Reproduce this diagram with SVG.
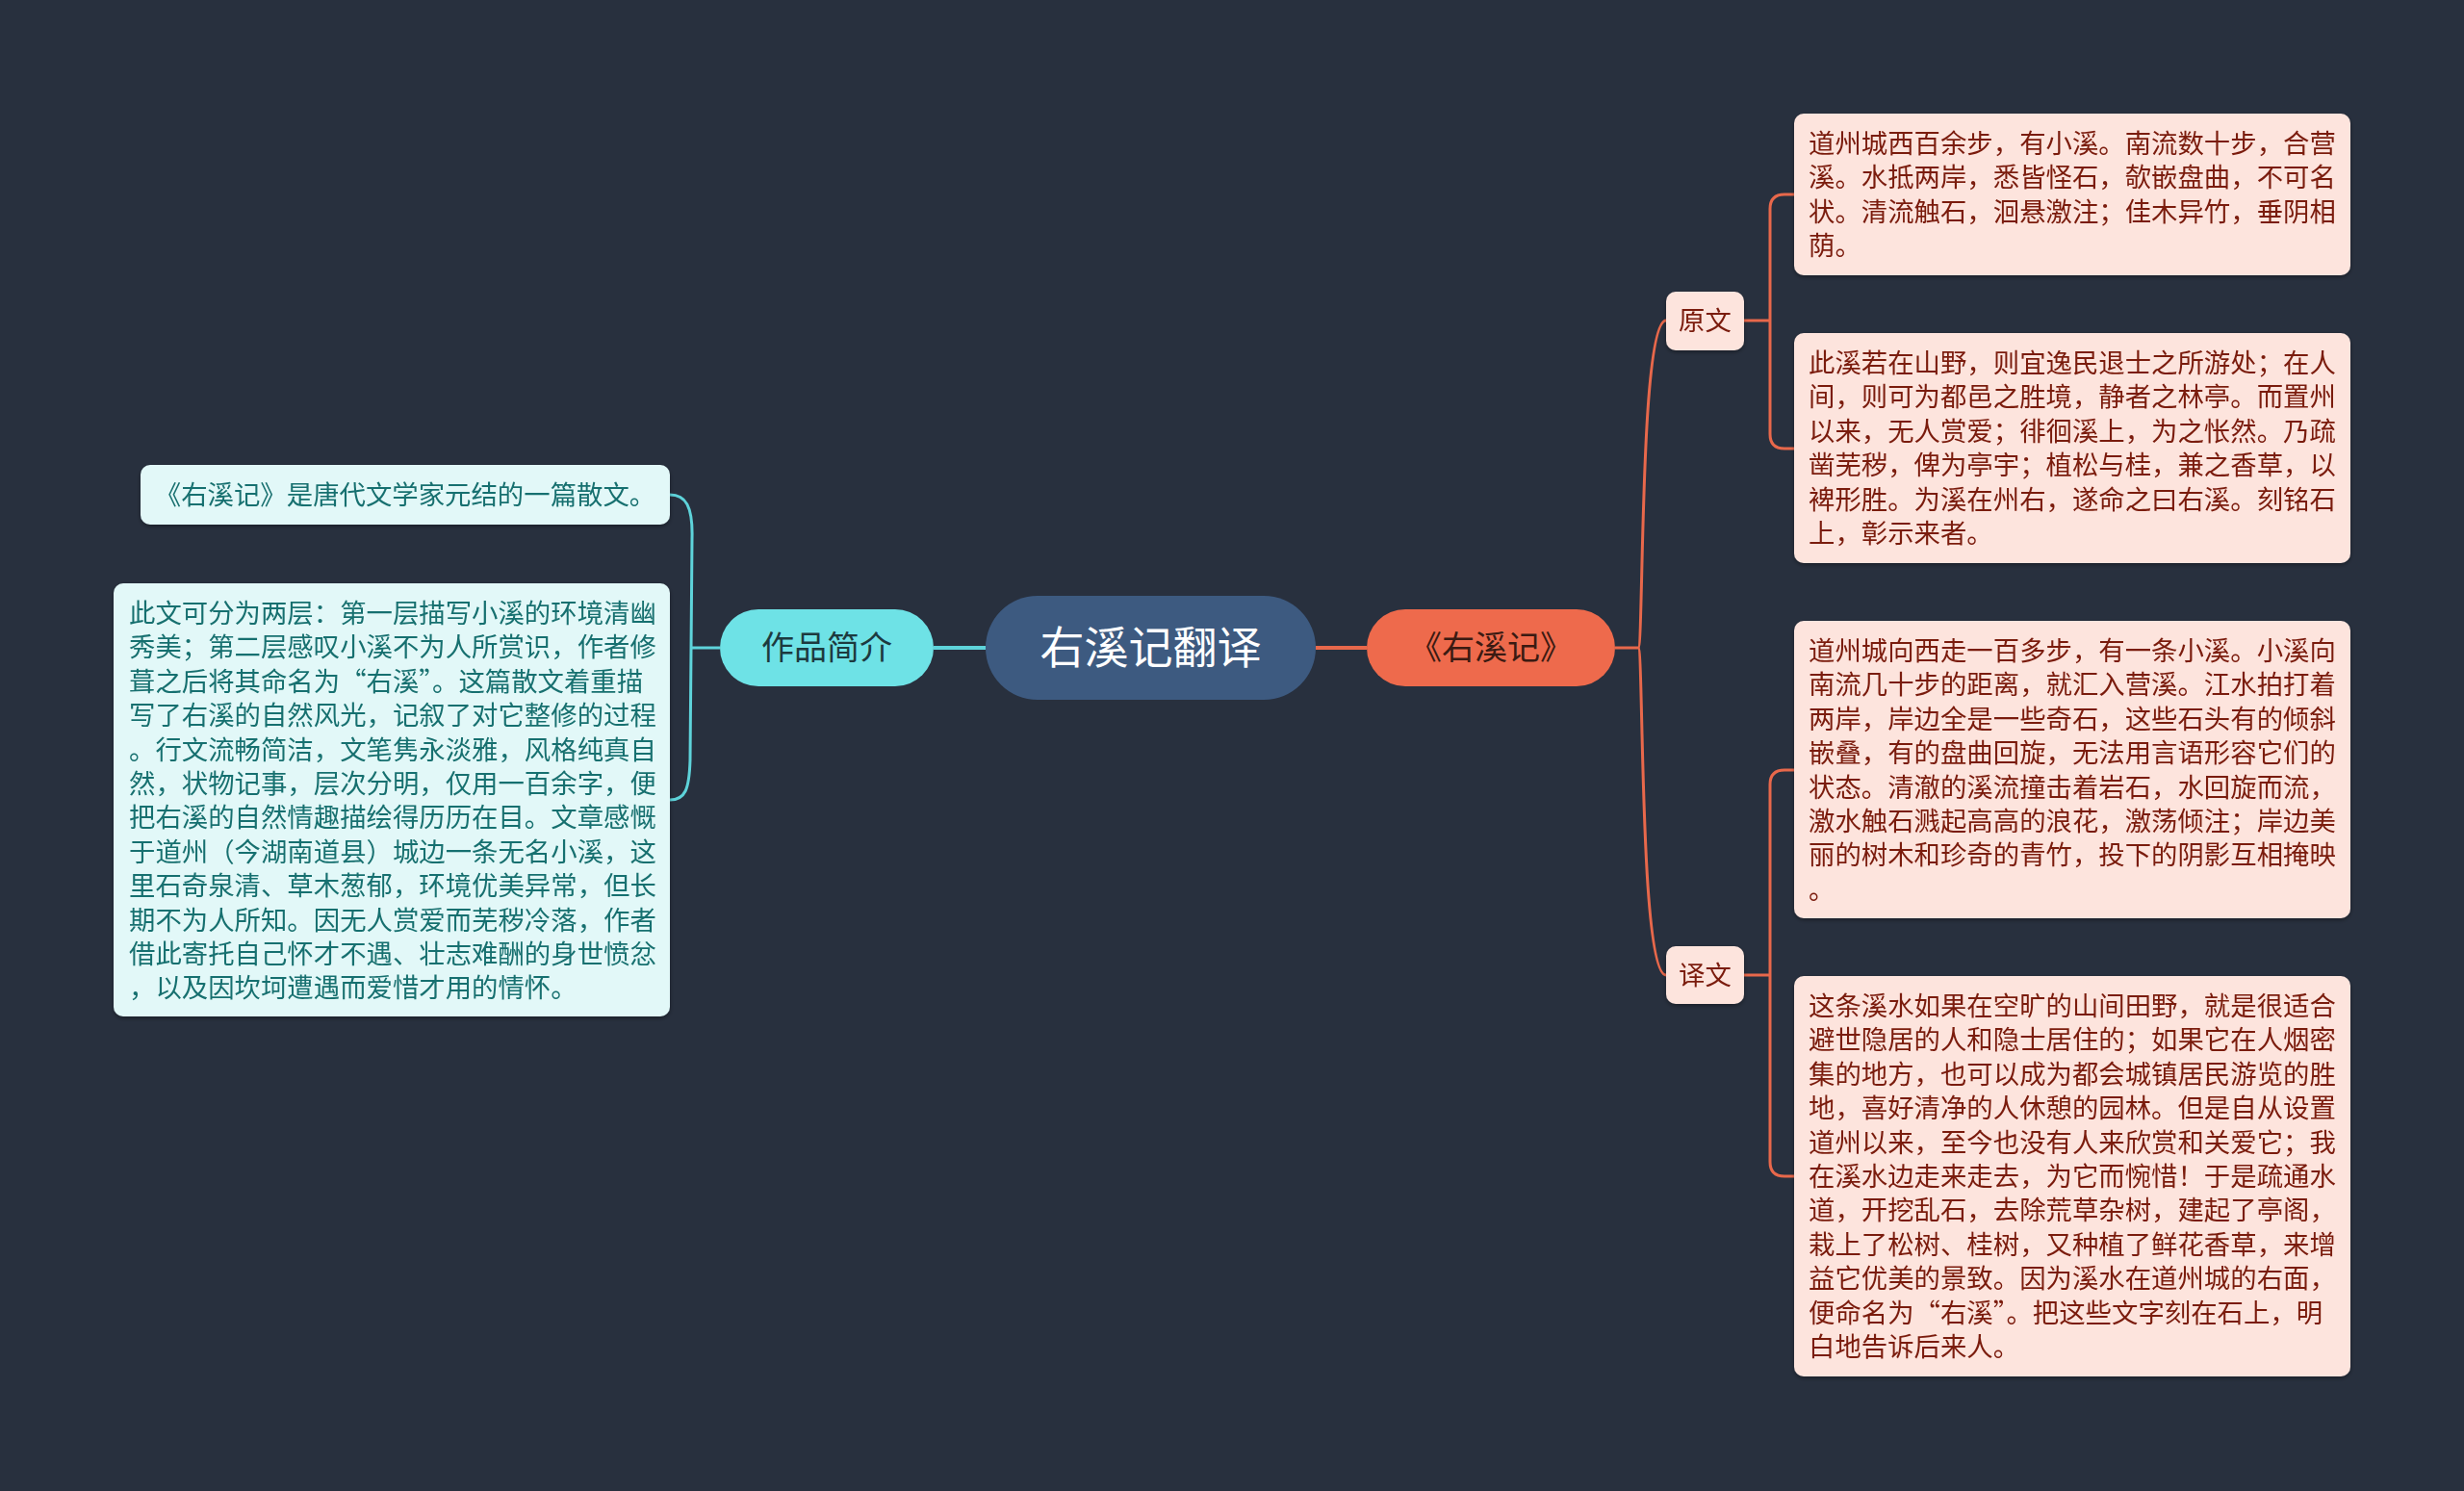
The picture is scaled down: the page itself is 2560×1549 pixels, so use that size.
<svg xmlns="http://www.w3.org/2000/svg" width="2560" height="1549" viewBox="0 0 2560 1549">
<defs>
<style>
text{font-family:"Noto Sans CJK SC","Noto Sans",sans-serif;}
.lt{fill:#e2f8f8;}
.ltt{fill:#19706f;font-size:27.4px;}
.rt{fill:#fde4dd;}
.rtt{fill:#7a1a0c;font-size:27.4px;}
.cy{fill:none;stroke:#5ed3da;stroke-width:3;}
.or{fill:none;stroke:#e8684b;stroke-width:3;}
</style>
<filter id="sh" x="-5%" y="-5%" width="110%" height="115%">
<feDropShadow dx="0" dy="2" stdDeviation="2" flood-color="#000" flood-opacity="0.35"/>
</filter>
</defs>
<rect width="2560" height="1549" fill="#28303e"/>
<g id="connectors">
<path class="cy" style="stroke-width:4" d="M1024,673 L970,673"/>
<path class="or" style="stroke-width:4" d="M1367,673 L1420,673"/>
<path class="cy" d="M748,673 L718,673"/>
<path class="cy" d="M696,514 C712,514 720,525 719,560 L717,790 C716,820 712,831 696,831"/>
<path class="or" d="M1678,673 L1702,673"/>
<path class="or" d="M1702,673 C1708,673 1703,333 1731,333"/>
<path class="or" d="M1702,673 C1708,673 1703,1013 1731,1013"/>
<path class="or" d="M1812,333 L1839,333"/>
<path class="or" d="M1864,202 L1854,202 Q1839,202 1839,217 L1839,451 Q1839,466 1854,466 L1864,466"/>
<path class="or" d="M1812,1013 L1839,1013"/>
<path class="or" d="M1864,800 L1854,800 Q1839,800 1839,815 L1839,1207 Q1839,1222 1854,1222 L1864,1222"/>
</g>
<g id="root">
<rect x="1024" y="619" width="343" height="108" rx="54" fill="#3d5a80"/>
<text x="1195.5" y="689" text-anchor="middle" font-size="46" fill="#ffffff">右溪记翻译</text>
</g>
<g id="n-intro">
<rect x="748" y="633" width="222" height="80" rx="40" fill="#6ee2e6"/>
<text x="859" y="685" text-anchor="middle" font-size="34" fill="#1d3a3f">作品简介</text>
</g>
<g id="n-youxiji">
<rect x="1420" y="633" width="258" height="80" rx="40" fill="#ee6a4c"/>
<text x="1549" y="685" text-anchor="middle" font-size="34" fill="#3b1a12">《右溪记》</text>
</g>
<g id="n-intro-1" filter="url(#sh)">
<rect class="lt" x="146" y="483" width="550" height="62" rx="10"/>
<text class="ltt" x="421" y="524" text-anchor="middle">《右溪记》是唐代文学家元结的一篇散文。</text>
</g>
<g id="n-intro-2" filter="url(#sh)">
<rect class="lt" x="118" y="606" width="578" height="450" rx="10"/>
<text class="ltt" x="134">
<tspan x="134" y="647">此文可分为两层：第一层描写小溪的环境清幽</tspan>
<tspan x="134" y="682.4">秀美；第二层感叹小溪不为人所赏识，作者修</tspan>
<tspan x="134" y="717.8">葺之后将其命名为“右溪”。这篇散文着重描</tspan>
<tspan x="134" y="753.2">写了右溪的自然风光，记叙了对它整修的过程</tspan>
<tspan x="134" y="788.6">。行文流畅简洁，文笔隽永淡雅，风格纯真自</tspan>
<tspan x="134" y="824">然，状物记事，层次分明，仅用一百余字，便</tspan>
<tspan x="134" y="859.4">把右溪的自然情趣描绘得历历在目。文章感慨</tspan>
<tspan x="134" y="894.8">于道州（今湖南道县）城边一条无名小溪，这</tspan>
<tspan x="134" y="930.2">里石奇泉清、草木葱郁，环境优美异常，但长</tspan>
<tspan x="134" y="965.6">期不为人所知。因无人赏爱而芜秽冷落，作者</tspan>
<tspan x="134" y="1001">借此寄托自己怀才不遇、壮志难酬的身世愤忿</tspan>
<tspan x="134" y="1036.4">，以及因坎坷遭遇而爱惜才用的情怀。</tspan>
</text>
</g>
<g id="n-yuanwen" filter="url(#sh)">
<rect class="rt" x="1731" y="303" width="81" height="61" rx="10"/>
<text class="rtt" x="1771.5" y="343" text-anchor="middle">原文</text>
</g>
<g id="n-yiwen" filter="url(#sh)">
<rect class="rt" x="1731" y="983" width="81" height="60" rx="10"/>
<text class="rtt" x="1771.5" y="1023" text-anchor="middle">译文</text>
</g>
<g id="n-yw-1" filter="url(#sh)">
<rect class="rt" x="1864" y="118" width="578" height="168" rx="10"/>
<text class="rtt">
<tspan x="1879" y="159">道州城西百余步，有小溪。南流数十步，合营</tspan>
<tspan x="1879" y="194.4">溪。水抵两岸，悉皆怪石，欹嵌盘曲，不可名</tspan>
<tspan x="1879" y="229.8">状。清流触石，洄悬激注；佳木异竹，垂阴相</tspan>
<tspan x="1879" y="265.2">荫。</tspan>
</text>
</g>
<g id="n-yw-2" filter="url(#sh)">
<rect class="rt" x="1864" y="346" width="578" height="239" rx="10"/>
<text class="rtt">
<tspan x="1879" y="387">此溪若在山野，则宜逸民退士之所游处；在人</tspan>
<tspan x="1879" y="422.4">间，则可为都邑之胜境，静者之林亭。而置州</tspan>
<tspan x="1879" y="457.8">以来，无人赏爱；徘徊溪上，为之怅然。乃疏</tspan>
<tspan x="1879" y="493.2">凿芜秽，俾为亭宇；植松与桂，兼之香草，以</tspan>
<tspan x="1879" y="528.6">裨形胜。为溪在州右，遂命之曰右溪。刻铭石</tspan>
<tspan x="1879" y="564">上，彰示来者。</tspan>
</text>
</g>
<g id="n-tr-1" filter="url(#sh)">
<rect class="rt" x="1864" y="645" width="578" height="309" rx="10"/>
<text class="rtt">
<tspan x="1879" y="686">道州城向西走一百多步，有一条小溪。小溪向</tspan>
<tspan x="1879" y="721.4">南流几十步的距离，就汇入营溪。江水拍打着</tspan>
<tspan x="1879" y="756.8">两岸，岸边全是一些奇石，这些石头有的倾斜</tspan>
<tspan x="1879" y="792.2">嵌叠，有的盘曲回旋，无法用言语形容它们的</tspan>
<tspan x="1879" y="827.6">状态。清澈的溪流撞击着岩石，水回旋而流，</tspan>
<tspan x="1879" y="863">激水触石溅起高高的浪花，激荡倾注；岸边美</tspan>
<tspan x="1879" y="898.4">丽的树木和珍奇的青竹，投下的阴影互相掩映</tspan>
<tspan x="1879" y="933.8">。</tspan>
</text>
</g>
<g id="n-tr-2" filter="url(#sh)">
<rect class="rt" x="1864" y="1014" width="578" height="416" rx="10"/>
<text class="rtt">
<tspan x="1879" y="1055">这条溪水如果在空旷的山间田野，就是很适合</tspan>
<tspan x="1879" y="1090.4">避世隐居的人和隐士居住的；如果它在人烟密</tspan>
<tspan x="1879" y="1125.8">集的地方，也可以成为都会城镇居民游览的胜</tspan>
<tspan x="1879" y="1161.2">地，喜好清净的人休憩的园林。但是自从设置</tspan>
<tspan x="1879" y="1196.6">道州以来，至今也没有人来欣赏和关爱它；我</tspan>
<tspan x="1879" y="1232">在溪水边走来走去，为它而惋惜！于是疏通水</tspan>
<tspan x="1879" y="1267.4">道，开挖乱石，去除荒草杂树，建起了亭阁，</tspan>
<tspan x="1879" y="1302.8">栽上了松树、桂树，又种植了鲜花香草，来增</tspan>
<tspan x="1879" y="1338.2">益它优美的景致。因为溪水在道州城的右面，</tspan>
<tspan x="1879" y="1373.6">便命名为“右溪”。把这些文字刻在石上，明</tspan>
<tspan x="1879" y="1409">白地告诉后来人。</tspan>
</text>
</g>
</svg>
